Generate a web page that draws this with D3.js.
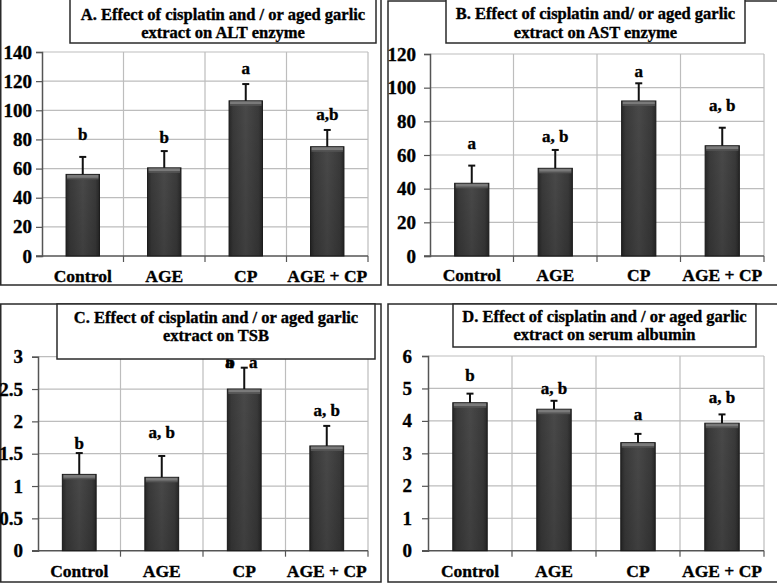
<!DOCTYPE html>
<html><head><meta charset="utf-8">
<script src="https://cdn.jsdelivr.net/npm/d3@7"></script>
<style>
html,body{margin:0;padding:0;background:#fff;}
svg{display:block;}
svg text{font-family:"Liberation Serif","DejaVu Serif",serif !important;font-weight:bold;}
</style></head>
<body>
<svg id="chart" width="777" height="583"></svg>
<script>
// ---------- data ----------
const categories = ["Control", "AGE", "CP", "AGE + CP"];

const altMeans = [56, 60.5, 106.5, 75];
const altErrors = [12, 11.5, 11.5, 11.5];
const altLetters = ["b", "b", "a", "a,b"];
const altLetterAt = [79.6, 77.8, 125, 93.3];
const altTicks = [0, 20, 40, 60, 80, 100, 120, 140];
const altTitle = ["A. Effect of cisplatin and / or aged garlic", "extract on ALT enzyme"];

const astMeans = [43.2, 52.1, 92.1, 65.5];
const astErrors = [10.5, 10.9, 10.5, 10.7];
const astLetters = ["a", "a, b", "a", "a, b"];
const astLetterAt = [63.4, 67.9, 106.2, 86.2];
const astTicks = [0, 20, 40, 60, 80, 100, 120];
const astTitle = ["B. Effect of cisplatin and/ or aged garlic", "extract on AST enzyme"];

const tsbMeans = [1.18, 1.135, 2.5, 1.62];
const tsbErrors = [0.33, 0.33, 0.33, 0.31];
const tsbLetters = ["b", "a, b", ["a", "b", "a"], "a, b"];
const tsbLetterAt = [1.58, 1.74, 2.82, 2.08];
const tsbTicks = [0, 0.5, 1, 1.5, 2, 2.5, 3];
const tsbTitle = ["C. Effect of cisplatin and / or aged garlic", "extract on TSB"];

const albMeans = [4.56, 4.36, 3.33, 3.93];
const albErrors = [0.28, 0.26, 0.27, 0.27];
const albLetters = ["b", "a, b", "a", "a, b"];
const albLetterAt = [5.24, 4.82, 4.03, 4.54];
const albTicks = [0, 1, 2, 3, 4, 5, 6];
const albTitle = ["D. Effect of cisplatin and / or aged garlic", "extract on serum albumin"];

// ---------- layout ----------
const FONT = "'Liberation Serif', 'DejaVu Serif', serif";
const panels = [
  {means: altMeans, errs: altErrors, letters: altLetters, letterAt: altLetterAt, ticks: altTicks, title: altTitle,
   frame: [0.75, -1, 381, 285], plot: [42, 52, 368, 256], tbox: [70, -1, 376, 43], tbase: [19.5, 38], gap: 10, catBase: 281.5},
  {means: astMeans, errs: astErrors, letters: astLetters, letterAt: astLetterAt, ticks: astTicks, title: astTitle,
   frame: [388, 1, 779, 285], plot: [430, 54, 764, 256], tbox: [446, -1, 745, 43], tbase: [19, 37.5], gap: 14, catBase: 281},
  {means: tsbMeans, errs: tsbErrors, letters: tsbLetters, letterAt: tsbLetterAt, ticks: tsbTicks, title: tsbTitle,
   frame: [0.75, 304, 381, 582], plot: [38, 356.7, 368, 550.7], tbox: [57, 304, 375, 359], tbase: [322.5, 341], gap: 15, catBase: 577},
  {means: albMeans, errs: albErrors, letters: albLetters, letterAt: albLetterAt, ticks: albTicks, title: albTitle,
   frame: [388, 304, 779, 582], plot: [428, 356, 764, 550.7], tbox: [453, 304, 756, 347], tbase: [321.5, 340], gap: 16, catBase: 577}
];

const svg = d3.select("#chart");
const defs = svg.append("defs");
const grad = defs.append("linearGradient").attr("id", "barGrad").attr("x1", "0").attr("x2", "1").attr("y1", "0").attr("y2", "0");
grad.append("stop").attr("offset", "0%").attr("stop-color", "#282828");
grad.append("stop").attr("offset", "12%").attr("stop-color", "#3a3a3a");
grad.append("stop").attr("offset", "50%").attr("stop-color", "#494949");
grad.append("stop").attr("offset", "88%").attr("stop-color", "#3a3a3a");
grad.append("stop").attr("offset", "100%").attr("stop-color", "#282828");
const vgrad = defs.append("linearGradient").attr("id", "barShade").attr("x1", "0").attr("x2", "0").attr("y1", "0").attr("y2", "1");
vgrad.append("stop").attr("offset", "0%").attr("stop-color", "#000").attr("stop-opacity", 0);
vgrad.append("stop").attr("offset", "100%").attr("stop-color", "#000").attr("stop-opacity", 0.15);

function txt(sel) {
  return sel.attr("font-family", FONT).attr("font-weight", "bold").attr("fill", "#000")
    .attr("stroke", "#000").attr("stroke-width", 0.35);
}

panels.forEach(p => {
  const g = svg.append("g");
  const [px0, py0, px1, py1] = p.plot;
  const y = d3.scaleLinear().domain([d3.min(p.ticks), d3.max(p.ticks)]).range([py1, py0]);
  const x = d3.scaleBand().domain(categories).range([px0, px1]).padding(0);
  const bw = x.bandwidth() * 0.41;

  // frame
  const [fx0, fy0, fx1, fy1] = p.frame;
  g.append("rect").attr("x", fx0).attr("y", fy0).attr("width", fx1 - fx0).attr("height", fy1 - fy0)
    .attr("fill", "#fff").attr("stroke", "#2a2a2a").attr("stroke-width", 1.5);

  // horizontal gridlines
  g.append("g").selectAll("line").data(p.ticks.slice(1)).join("line")
    .attr("x1", px0).attr("x2", px1).attr("y1", d => y(d)).attr("y2", d => y(d))
    .attr("stroke", "#bdbdbd").attr("stroke-width", 1.2);
  // vertical gridlines (category dividers) + right border
  const dividers = categories.slice(1).map(c => x(c)).concat([px1]);
  g.append("g").selectAll("line").data(dividers).join("line")
    .attr("x1", d => d).attr("x2", d => d).attr("y1", py0).attr("y2", py1)
    .attr("stroke", "#bdbdbd").attr("stroke-width", 1.2);

  // y axis
  const yAxis = d3.axisLeft(y).tickValues(p.ticks).tickSize(6).tickPadding(p.gap - 6).tickFormat(d3.format("~g"));
  const ya = g.append("g").attr("transform", `translate(${px0},0)`).call(yAxis);
  ya.attr("font-family", FONT);
  ya.select(".domain").attr("stroke", "#555").attr("stroke-width", 1.5);
  ya.selectAll(".tick line").attr("stroke", "#555").attr("stroke-width", 1.2);
  txt(ya.selectAll(".tick text")).attr("font-size", 19);

  // x axis
  const xa = g.append("g").attr("transform", `translate(0,${py1})`);
  xa.append("line").attr("x1", px0 - 6).attr("x2", px1).attr("stroke", "#555").attr("stroke-width", 1.5);
  xa.selectAll("line.tk").data(dividers).join("line").attr("class", "tk")
    .attr("x1", d => d).attr("x2", d => d).attr("y1", 0).attr("y2", 6).attr("stroke", "#555").attr("stroke-width", 1.2);
  txt(g.append("g").selectAll("text").data(categories).join("text")
    .attr("x", d => x(d) + x.bandwidth() / 2).attr("y", p.catBase)
    .attr("text-anchor", "middle").attr("font-size", 17.5).text(d => d));

  // bars
  const bars = g.append("g");
  categories.forEach((c, i) => {
    const bx = x(c) + (x.bandwidth() - bw) / 2;
    const top = y(p.means[i]);
    const h = y(0) - top;
    bars.append("rect").attr("x", bx).attr("y", top).attr("width", bw).attr("height", h)
      .attr("fill", "url(#barGrad)").attr("stroke", "#1a1a1a").attr("stroke-width", 1);
    bars.append("rect").attr("x", bx).attr("y", top).attr("width", bw).attr("height", h)
      .attr("fill", "url(#barShade)");
    bars.append("rect").attr("x", bx + 1).attr("y", top + 0.5).attr("width", bw - 2).attr("height", 3)
      .attr("fill", "#7a7a7a");
    bars.append("rect").attr("x", bx + 1).attr("y", top + 3.5).attr("width", bw - 2).attr("height", 1.5)
      .attr("fill", "#555");
    // error bar (upper only)
    const cx = x(c) + x.bandwidth() / 2;
    const et = y(p.means[i] + p.errs[i]);
    bars.append("line").attr("x1", cx).attr("x2", cx).attr("y1", top).attr("y2", et)
      .attr("stroke", "#111").attr("stroke-width", 2);
    bars.append("line").attr("x1", cx - 3.5).attr("x2", cx + 3.5).attr("y1", et).attr("y2", et)
      .attr("stroke", "#111").attr("stroke-width", 2);
    // significance letters
    const lab = p.letters[i];
    const ly = y(p.letterAt[i]);
    if (Array.isArray(lab)) {
      txt(bars.append("text").attr("x", cx - 15).attr("y", ly).attr("text-anchor", "middle").attr("font-size", 17).text(lab[0]));
      txt(bars.append("text").attr("x", cx - 14).attr("y", ly).attr("text-anchor", "middle").attr("font-size", 17).text(lab[1]));
      txt(bars.append("text").attr("x", cx + 9).attr("y", ly).attr("text-anchor", "middle").attr("font-size", 17).text(lab[2]));
    } else {
      txt(bars.append("text").attr("x", cx).attr("y", ly).attr("text-anchor", "middle").attr("font-size", 17).text(lab));
    }
  });

  // title box
  const [tx0, ty0, tx1, ty1] = p.tbox;
  g.append("rect").attr("x", tx0).attr("y", ty0).attr("width", tx1 - tx0).attr("height", ty1 - ty0)
    .attr("fill", "#fff").attr("stroke", "#2a2a2a").attr("stroke-width", 1.5);
  p.title.forEach((t, k) => {
    txt(g.append("text").attr("x", (tx0 + tx1) / 2).attr("y", p.tbase[k]).attr("text-anchor", "middle")
      .attr("font-size", 16.5).text(t));
  });
});
</script>
</body></html>
